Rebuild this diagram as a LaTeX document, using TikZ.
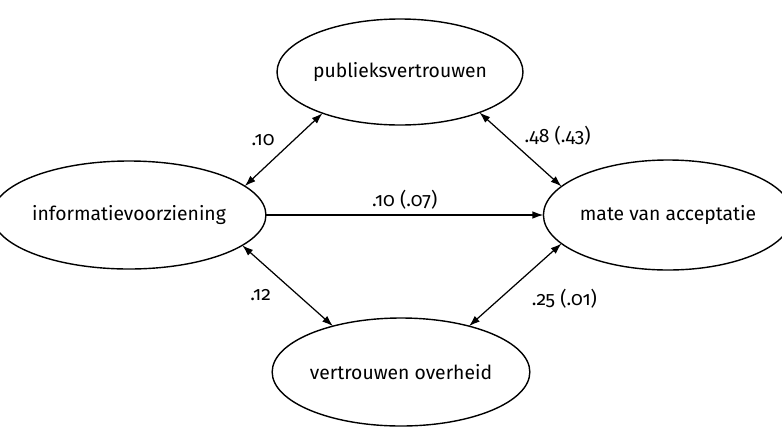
\documentclass[tikz,border=0pt]{standalone}
\usepackage{fontspec}
\setmainfont{Fira Sans}[Numbers=OldStyle]
\usetikzlibrary{shapes.geometric,arrows.meta}

\begin{document}
\begin{tikzpicture}[
  x=0.2mm, y=-0.2mm,
  >={Latex[length=2.2mm, width=1.5mm]},
  var/.style={ellipse, draw, line width=0.8pt, inner sep=0pt, outer sep=0pt,
              minimum width=48mm, minimum height=21.6mm,
              font=\fontsize{11}{13}\selectfont},
  link/.style={<->, line width=0.7pt},
  effect/.style={->, line width=0.7pt},
  coef/.style={font=\fontsize{11}{13}\selectfont, inner sep=2pt},
]
  \useasboundingbox (0,0) rectangle (782,426);

  % --- the four variables ---
  \node[var, minimum width=47.6mm] (info) at (129,215) {informatievoorziening};
  \node[var, minimum width=48.4mm, minimum height=21.2mm] (pub) at (400,72) {publieksvertrouwen};
  \node[var, minimum width=45.2mm, minimum height=22mm] (mate) at (668,215) {mate van acceptatie};
  \node[var] (ovh) at (401,372) {vertrouwen overheid};

  % --- correlations and the direct effect ---
  \draw[link] (info.14) -- node[coef, above left, xshift=-1mm] {.10} (pub.208);
  \draw[link] (pub.333) -- node[coef, above right] {.48 (.43)} (mate.165);
  \draw[effect] (info.east) -- node[coef, above=1pt] {.10 (.07)} (mate.west);
  \draw[link] (info.345) -- node[coef, below left, xshift=-2.5mm] {.12} (ovh.146);
  \draw[link] (mate.195) -- node[coef, below right, xshift=2.5mm] {.25 (.01)} (ovh.34);
\end{tikzpicture}
\end{document}
